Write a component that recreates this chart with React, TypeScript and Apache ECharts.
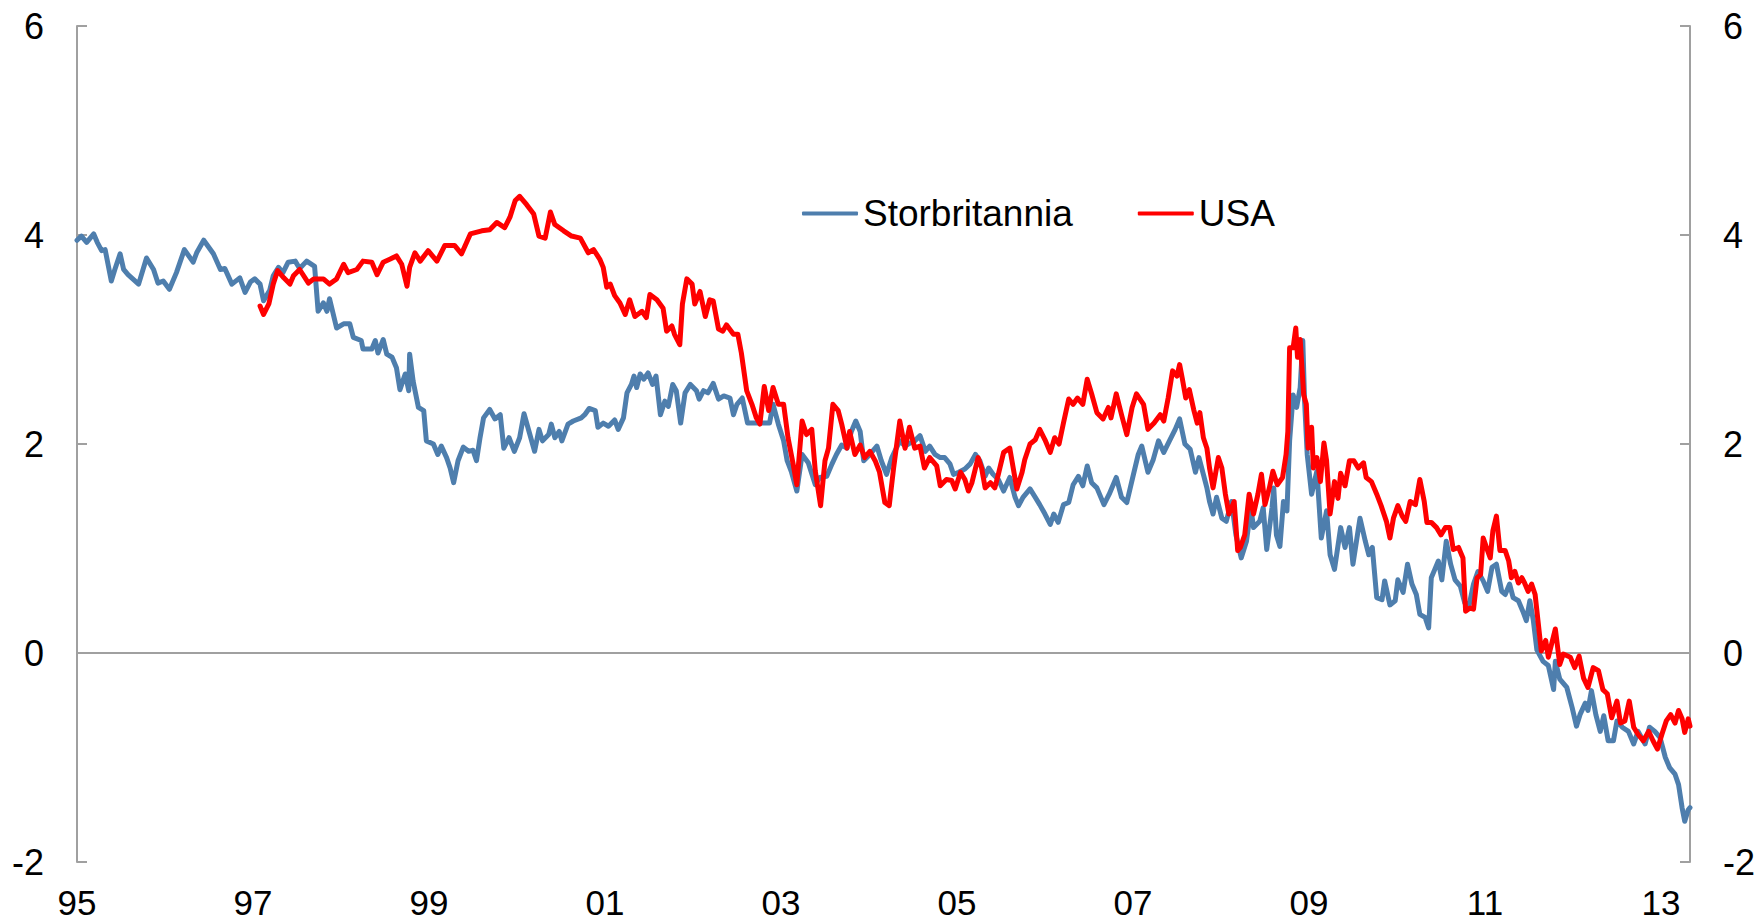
import React, { useEffect, useRef } from "react";
import * as echarts from "echarts";

const X_START = 1995;
const X_END = 2013.33;
const Y_MIN = -2;
const Y_MAX = 6;
const Y_STEP = 2;
const X_STEP = 2;

const seriesNames = ["Storbritannia", "USA"];

const ukYears = [
  1995.0, 1995.05, 1995.11, 1995.19, 1995.23, 1995.28, 1995.32, 1995.39, 1995.43, 1995.49, 1995.53, 1995.58, 1995.7, 1995.79, 1995.87, 1995.92, 1995.98,
  1996.05, 1996.13, 1996.22, 1996.32, 1996.36, 1996.44, 1996.55, 1996.63, 1996.68, 1996.76, 1996.85, 1996.91, 1996.97,
  1997.02, 1997.08, 1997.12, 1997.19, 1997.23, 1997.29, 1997.34, 1997.4, 1997.48, 1997.53, 1997.61, 1997.7, 1997.74, 1997.8, 1997.84, 1997.87, 1997.95,
  1998.03, 1998.1, 1998.14, 1998.23, 1998.25, 1998.35, 1998.39, 1998.42, 1998.48, 1998.52, 1998.58, 1998.63, 1998.67, 1998.73, 1998.77, 1998.78, 1998.82, 1998.88, 1998.94, 1998.97,
  1999.05, 1999.1, 1999.14, 1999.2, 1999.24, 1999.28, 1999.33, 1999.39, 1999.45, 1999.5, 1999.54, 1999.58, 1999.62, 1999.69, 1999.75, 1999.81, 1999.85, 1999.91, 1999.97,
  2000.03, 2000.08, 2000.14, 2000.2, 2000.25, 2000.29, 2000.36, 2000.39, 2000.43, 2000.48, 2000.51, 2000.58, 2000.64, 2000.73, 2000.77, 2000.82, 2000.89, 2000.92, 2000.98,
  2001.04, 2001.11, 2001.15, 2001.21, 2001.25, 2001.3, 2001.33, 2001.36, 2001.4, 2001.44, 2001.49, 2001.54, 2001.58, 2001.63, 2001.68, 2001.72, 2001.77, 2001.81, 2001.86, 2001.91, 2001.97,
  2002.04, 2002.07, 2002.12, 2002.17, 2002.23, 2002.29, 2002.35, 2002.42, 2002.46, 2002.5, 2002.56, 2002.62, 2002.69, 2002.8, 2002.87, 2002.91, 2002.97,
  2003.03, 2003.07, 2003.12, 2003.18, 2003.24, 2003.31, 2003.39, 2003.44, 2003.52, 2003.58, 2003.63, 2003.69, 2003.75, 2003.8, 2003.85, 2003.9, 2003.94,
  2004.01, 2004.09, 2004.14, 2004.2, 2004.26, 2004.35, 2004.41, 2004.47, 2004.52, 2004.58, 2004.64, 2004.69, 2004.75, 2004.81, 2004.86, 2004.92, 2004.96,
  2005.02, 2005.09, 2005.15, 2005.21, 2005.26, 2005.32, 2005.36, 2005.41, 2005.47, 2005.53, 2005.6, 2005.66, 2005.7, 2005.75, 2005.83, 2005.89, 2005.94,
  2006.0, 2006.06, 2006.1, 2006.15, 2006.21, 2006.27, 2006.32, 2006.38, 2006.43, 2006.48, 2006.53, 2006.59, 2006.67, 2006.73, 2006.81, 2006.87, 2006.93,
  2007.0, 2007.06, 2007.1, 2007.17, 2007.23, 2007.29, 2007.35, 2007.42, 2007.48, 2007.53, 2007.59, 2007.65, 2007.71, 2007.75, 2007.8, 2007.84, 2007.87, 2007.91, 2007.95,
  2008.01, 2008.06, 2008.12, 2008.17, 2008.23, 2008.29, 2008.34, 2008.37, 2008.44, 2008.48, 2008.52, 2008.58, 2008.6, 2008.63, 2008.67, 2008.71, 2008.75, 2008.78, 2008.82, 2008.86, 2008.9, 2008.93, 2008.95, 2008.98,
  2009.03, 2009.09, 2009.14, 2009.2, 2009.24, 2009.29, 2009.36, 2009.41, 2009.46, 2009.5, 2009.54, 2009.58, 2009.64, 2009.68, 2009.72, 2009.77, 2009.83, 2009.86, 2009.92, 2009.98,
  2010.01, 2010.07, 2010.12, 2010.17, 2010.22, 2010.26, 2010.32, 2010.36, 2010.39, 2010.43, 2010.47, 2010.51, 2010.56, 2010.61, 2010.66, 2010.72, 2010.77, 2010.82, 2010.87, 2010.92, 2010.98,
  2011.03, 2011.08, 2011.13, 2011.19, 2011.23, 2011.28, 2011.32, 2011.38, 2011.43, 2011.47, 2011.51, 2011.55, 2011.59, 2011.66, 2011.72, 2011.78, 2011.8, 2011.85, 2011.93, 2011.99,
  2012.04, 2012.08, 2012.14, 2012.17, 2012.21, 2012.26, 2012.31, 2012.35, 2012.4, 2012.46, 2012.5, 2012.56, 2012.63, 2012.69, 2012.74, 2012.82, 2012.87, 2012.93, 2012.99,
  2013.05, 2013.1, 2013.16, 2013.2, 2013.24, 2013.27, 2013.31, 2013.33,
];

const ukValues = [
  3.95, 3.99, 3.93, 4.01, 3.93, 3.85, 3.86, 3.56, 3.67, 3.82, 3.67, 3.62, 3.53, 3.78, 3.67, 3.54, 3.56,
  3.48, 3.64, 3.86, 3.74, 3.83, 3.95, 3.82, 3.67, 3.68, 3.53, 3.59, 3.45, 3.55,
  3.58, 3.53, 3.37, 3.47, 3.61, 3.69, 3.64, 3.74, 3.75, 3.68, 3.75, 3.7, 3.27, 3.35, 3.27, 3.39, 3.11,
  3.15, 3.15, 3.02, 2.99, 2.91, 2.91, 2.99, 2.87, 3.0, 2.86, 2.83, 2.73, 2.52, 2.67, 2.51, 2.86, 2.6, 2.35, 2.32, 2.03,
  2.0, 1.9, 1.98, 1.87, 1.77, 1.63, 1.84, 1.97, 1.93, 1.94, 1.84, 2.06, 2.25, 2.33, 2.24, 2.28, 1.96, 2.06, 1.93,
  2.06, 2.29, 2.11, 1.93, 2.14, 2.03, 2.09, 2.19, 2.06, 2.12, 2.03, 2.19, 2.22, 2.25, 2.28, 2.34, 2.32, 2.16, 2.2,
  2.17, 2.23, 2.14, 2.25, 2.49, 2.57, 2.65, 2.54, 2.67, 2.62, 2.68, 2.57, 2.65, 2.28, 2.41, 2.36, 2.57, 2.51, 2.2, 2.49, 2.57,
  2.51, 2.43, 2.51, 2.49, 2.58, 2.43, 2.46, 2.44, 2.28, 2.38, 2.44, 2.2, 2.2, 2.2, 2.2, 2.38, 2.19,
  2.03, 1.84, 1.73, 1.55, 1.9, 1.82, 1.61, 1.68, 1.69, 1.81, 1.9, 1.99, 1.96, 2.12, 2.22, 2.12, 1.84,
  1.9, 1.98, 1.84, 1.71, 1.87, 2.03, 1.98, 2.01, 2.03, 2.08, 1.93, 1.98, 1.9, 1.87, 1.87, 1.81, 1.71,
  1.73, 1.76, 1.81, 1.9, 1.84, 1.69, 1.77, 1.71, 1.66, 1.55, 1.68, 1.49, 1.41, 1.49, 1.57, 1.49, 1.42,
  1.33, 1.23, 1.33, 1.25, 1.42, 1.44, 1.61, 1.69, 1.6, 1.79, 1.63, 1.58, 1.42, 1.52, 1.68, 1.49, 1.44,
  1.69, 1.9, 1.98, 1.73, 1.85, 2.03, 1.92, 2.04, 2.14, 2.24, 2.0, 1.95, 1.73, 1.87, 1.71, 1.58, 1.45, 1.33, 1.49,
  1.29, 1.26, 1.45, 1.13, 0.91, 1.07, 1.39, 1.2, 1.26, 1.39, 0.99, 1.39, 1.58, 1.13, 1.02, 1.45, 1.36, 2.03, 2.47, 2.35, 2.54, 2.99, 2.41, 1.9,
  1.52, 1.74, 1.1, 1.36, 0.94, 0.8, 1.2, 1.01, 1.2, 0.85, 1.07, 1.29, 1.07, 0.94, 1.01, 0.53, 0.51, 0.69, 0.46, 0.5,
  0.7, 0.58, 0.85, 0.66, 0.56, 0.37, 0.34, 0.24, 0.72, 0.8, 0.88, 0.7, 1.07, 0.85, 0.7, 0.64, 0.48, 0.46, 0.66, 0.78, 0.69,
  0.59, 0.82, 0.85, 0.59, 0.56, 0.66, 0.53, 0.5, 0.4, 0.31, 0.5, 0.31, 0.03, -0.08, -0.12, -0.35, -0.08, -0.25, -0.33, -0.52,
  -0.7, -0.59, -0.48, -0.55, -0.36, -0.59, -0.75, -0.6, -0.84, -0.84, -0.65, -0.71, -0.75, -0.87, -0.75, -0.87, -0.71, -0.75, -0.81,
  -1.0, -1.1, -1.16, -1.26, -1.48, -1.61, -1.5, -1.48,
];

const usYears = [
  1997.08, 1997.12, 1997.18, 1997.23, 1997.28, 1997.35, 1997.42, 1997.46, 1997.53, 1997.63, 1997.69, 1997.8, 1997.87, 1997.95,
  1998.03, 1998.08, 1998.18, 1998.25, 1998.35, 1998.41, 1998.48, 1998.56, 1998.63, 1998.69, 1998.75, 1998.78, 1998.84, 1998.9, 1998.99,
  1999.09, 1999.18, 1999.29, 1999.37, 1999.47, 1999.6, 1999.69, 1999.77, 1999.86, 1999.92, 1999.98,
  2000.03, 2000.11, 2000.19, 2000.25, 2000.32, 2000.38, 2000.43, 2000.53, 2000.62, 2000.72, 2000.81, 2000.87, 2000.94, 2000.98,
  2001.02, 2001.06, 2001.11, 2001.17, 2001.23, 2001.28, 2001.34, 2001.42, 2001.47, 2001.51, 2001.59, 2001.66, 2001.7, 2001.76, 2001.79, 2001.85, 2001.88, 2001.93, 2001.99,
  2002.02, 2002.08, 2002.14, 2002.19, 2002.23, 2002.29, 2002.34, 2002.38, 2002.46, 2002.51, 2002.55, 2002.61, 2002.67, 2002.72, 2002.76, 2002.81, 2002.86, 2002.91, 2002.97,
  2003.03, 2003.08, 2003.14, 2003.18, 2003.24, 2003.29, 2003.35, 2003.39, 2003.45, 2003.5, 2003.54, 2003.59, 2003.65, 2003.69, 2003.75, 2003.78, 2003.84, 2003.9, 2003.95,
  2004.01, 2004.07, 2004.12, 2004.18, 2004.23, 2004.28, 2004.35, 2004.41, 2004.46, 2004.52, 2004.58, 2004.63, 2004.69, 2004.77, 2004.81, 2004.88, 2004.94, 2004.98,
  2005.04, 2005.09, 2005.13, 2005.17, 2005.24, 2005.28, 2005.32, 2005.38, 2005.43, 2005.47, 2005.53, 2005.6, 2005.68, 2005.74, 2005.77, 2005.83, 2005.89, 2005.94,
  2006.0, 2006.06, 2006.11, 2006.16, 2006.21, 2006.27, 2006.32, 2006.37, 2006.43, 2006.48, 2006.53, 2006.59, 2006.66, 2006.72, 2006.75, 2006.81, 2006.87, 2006.93, 2006.99,
  2007.04, 2007.12, 2007.17, 2007.24, 2007.31, 2007.35, 2007.4, 2007.45, 2007.5, 2007.53, 2007.56, 2007.6, 2007.64, 2007.69, 2007.73, 2007.76, 2007.8, 2007.84, 2007.87, 2007.91, 2007.97,
  2008.01, 2008.05, 2008.09, 2008.15, 2008.19, 2008.22, 2008.27, 2008.32, 2008.37, 2008.42, 2008.46, 2008.5, 2008.55, 2008.59, 2008.64, 2008.7, 2008.74, 2008.76, 2008.78, 2008.82, 2008.85, 2008.87, 2008.9, 2008.94, 2008.97, 2008.99,
  2009.03, 2009.05, 2009.09, 2009.13, 2009.17, 2009.2, 2009.24, 2009.29, 2009.33, 2009.36, 2009.41, 2009.46, 2009.51, 2009.56, 2009.62, 2009.65, 2009.71, 2009.77, 2009.82, 2009.88, 2009.92, 2009.96,
  2010.01, 2010.06, 2010.1, 2010.15, 2010.21, 2010.26, 2010.31, 2010.34, 2010.39, 2010.45, 2010.5, 2010.55, 2010.6, 2010.64, 2010.7, 2010.75, 2010.78, 2010.83, 2010.87, 2010.91, 2010.95, 2010.98,
  2011.03, 2011.06, 2011.09, 2011.13, 2011.17, 2011.23, 2011.27, 2011.3, 2011.34, 2011.38, 2011.42, 2011.45, 2011.49, 2011.53, 2011.57, 2011.61, 2011.64, 2011.69, 2011.72, 2011.8, 2011.85, 2011.89, 2011.97,
  2012.02, 2012.07, 2012.12, 2012.17, 2012.23, 2012.29, 2012.34, 2012.39, 2012.44, 2012.5, 2012.54, 2012.59, 2012.64, 2012.69, 2012.74, 2012.8, 2012.86, 2012.91, 2012.96,
  2013.01, 2013.06, 2013.11, 2013.16, 2013.2, 2013.24, 2013.27, 2013.31, 2013.33,
];

const usValues = [
  3.32, 3.24, 3.34, 3.53, 3.66, 3.59, 3.53, 3.61, 3.67, 3.54, 3.58, 3.58, 3.53, 3.58,
  3.72, 3.64, 3.67, 3.75, 3.74, 3.62, 3.74, 3.77, 3.8, 3.72, 3.51, 3.69, 3.83, 3.75, 3.85,
  3.75, 3.9, 3.9, 3.82, 4.01, 4.04, 4.05, 4.12, 4.07, 4.17, 4.33,
  4.37, 4.29, 4.2, 3.99, 3.97, 4.22, 4.1, 4.04, 3.99, 3.97, 3.83, 3.86, 3.77, 3.69,
  3.5, 3.53, 3.42, 3.35, 3.24, 3.38, 3.22, 3.27, 3.21, 3.43, 3.38, 3.3, 3.08, 3.13, 3.05, 2.95, 3.34, 3.58, 3.53,
  3.34, 3.46, 3.22, 3.38, 3.37, 3.1, 3.08, 3.14, 3.05, 3.05, 2.87, 2.51, 2.38, 2.25, 2.19, 2.55, 2.32, 2.54, 2.38,
  2.38, 2.06, 1.8, 1.61, 2.22, 2.09, 2.14, 1.74, 1.41, 1.84, 1.96, 2.38, 2.32, 2.19, 1.96, 2.12, 1.9, 1.99, 1.87,
  1.93, 1.84, 1.73, 1.44, 1.41, 1.77, 2.22, 1.96, 2.16, 1.96, 1.98, 1.77, 1.87, 1.79, 1.6, 1.66, 1.65, 1.57,
  1.73, 1.66, 1.55, 1.63, 1.87, 1.77, 1.58, 1.63, 1.58, 1.71, 1.92, 1.96, 1.57, 1.73, 1.85, 2.0, 2.04, 2.14,
  2.04, 1.92, 2.06, 2.0, 2.2, 2.43, 2.38, 2.44, 2.38, 2.62, 2.48, 2.3, 2.24, 2.35, 2.25, 2.48, 2.28, 2.09, 2.35,
  2.48, 2.38, 2.14, 2.2, 2.28, 2.22, 2.44, 2.7, 2.65, 2.76, 2.63, 2.44, 2.52, 2.33, 2.2, 2.3, 2.06, 1.96, 1.77, 1.58, 1.87,
  1.77, 1.52, 1.33, 1.45, 0.98, 1.01, 1.13, 1.52, 1.33, 1.52, 1.71, 1.42, 1.58, 1.74, 1.61, 1.68, 1.9, 2.12, 2.92, 2.92, 3.11, 2.83, 3.0, 2.47, 2.38, 1.96,
  2.16, 1.77, 1.87, 1.64, 2.01, 1.84, 1.33, 1.64, 1.48, 1.72, 1.6, 1.84, 1.84, 1.77, 1.82, 1.68, 1.64, 1.52, 1.41, 1.26, 1.1, 1.29,
  1.41, 1.31, 1.26, 1.45, 1.42, 1.66, 1.45, 1.25, 1.25, 1.2, 1.13, 1.2, 1.2, 0.99, 1.01, 0.91, 0.4, 0.43, 0.42, 0.72, 0.75, 1.1,
  0.98, 0.91, 1.17, 1.31, 0.98, 0.98, 0.88, 0.72, 0.78, 0.67, 0.72, 0.67, 0.59, 0.66, 0.56, 0.25, 0.02, 0.12, -0.04, 0.23, -0.11, -0.01, -0.04,
  -0.14, -0.03, -0.24, -0.33, -0.14, -0.17, -0.35, -0.39, -0.62, -0.46, -0.67, -0.65, -0.46, -0.71, -0.78, -0.84, -0.75, -0.84, -0.92,
  -0.78, -0.65, -0.59, -0.67, -0.55, -0.63, -0.76, -0.63, -0.7,
];

const UK_COLOR = "#4E7EAD";
const US_COLOR = "#FF0000";
const AXIS_COLOR = "#A0A0A0";
const FONT = "'Liberation Sans', Arial, Helvetica, sans-serif";

function pairs(years: number[], values: number[]) {
  return years.map((y, i) => [y - X_START, values[i]]);
}

export default function App() {
  const ref = useRef<HTMLDivElement>(null);

  useEffect(() => {
    if (!ref.current) return;
    const chart = echarts.init(ref.current, null, { renderer: "svg" });

    const yAxisBase = {
      type: "value",
      min: Y_MIN,
      max: Y_MAX,
      interval: Y_STEP,
      axisLine: { show: true, lineStyle: { color: AXIS_COLOR, width: 2 } },
      axisTick: { show: true, inside: true, length: 10, lineStyle: { color: AXIS_COLOR, width: 2 } },
      splitLine: { show: false },
      axisLabel: { fontSize: 36, color: "#000", margin: 33, fontFamily: FONT },
    };

    chart.setOption({
      animation: false,
      textStyle: { fontFamily: FONT },
      grid: { left: 77, right: 69, top: 26, bottom: 60, containLabel: false },
      legend: {
        data: seriesNames,
        left: 797,
        top: 190,
        icon: "roundRect",
        itemWidth: 56,
        itemHeight: 4,
        itemGap: 65,
        textStyle: { fontSize: 37, color: "#000", fontFamily: FONT },
      },
      xAxis: {
        type: "value",
        min: 0,
        max: X_END - X_START,
        interval: X_STEP,
        axisLine: { show: false, onZero: false },
        axisTick: { show: false },
        splitLine: { show: false },
        axisLabel: {
          fontSize: 35,
          lineHeight: 30,
          verticalAlign: "middle",
          color: "#000",
          margin: 40,
          fontFamily: FONT,
          showMaxLabel: false,
          formatter: (v: number) => String(Math.round(X_START + v) % 100).padStart(2, "0"),
        },
      },
      yAxis: [
        { ...yAxisBase, position: "left" },
        { ...yAxisBase, position: "right" },
      ],
      series: [
        {
          name: seriesNames[0],
          type: "line",
          data: pairs(ukYears, ukValues),
          symbol: "none",
          showSymbol: false,
          lineStyle: { color: UK_COLOR, width: 5, cap: "round", join: "round" },
          itemStyle: { color: UK_COLOR },
          markLine: {
            silent: true,
            symbol: ["none", "none"],
            label: { show: false },
            lineStyle: { color: AXIS_COLOR, width: 2, type: "solid" },
            data: [{ yAxis: 0 }],
            z: 1,
          },
          z: 2,
        },
        {
          name: seriesNames[1],
          type: "line",
          data: pairs(usYears, usValues),
          symbol: "none",
          showSymbol: false,
          lineStyle: { color: US_COLOR, width: 5, cap: "round", join: "round" },
          itemStyle: { color: US_COLOR },
          z: 3,
        },
      ],
    });

    return () => chart.dispose();
  }, []);

  return (
    <div
      ref={ref}
      style={{ position: "fixed", left: 0, top: 0, width: 1759, height: 922, background: "#fff" }}
    />
  );
}
